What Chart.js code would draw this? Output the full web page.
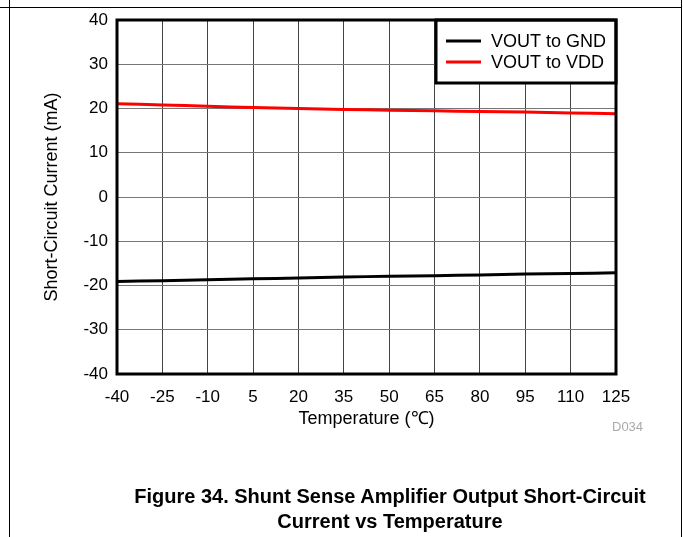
<!DOCTYPE html>
<html lang="en">
  <head>
    <meta charset="UTF-8" />
    <title>Short-Circuit Current vs Temperature</title>
    <style>
      body { margin: 0; width: 683px; height: 537px; position: relative; background: #fff; font-family: "Liberation Sans", Arial, sans-serif; overflow: hidden; }
      #wrap { position: absolute; left: 0; top: 0; width: 683px; height: 537px; }
      .hline { position: absolute; left: 0; top: 7px; width: 682px; height: 1px; background: #000; }
      .vline { position: absolute; top: 0; width: 1px; height: 537px; background: #000; }
      #code { position: absolute; left: 612px; top: 419px; font-size: 13px; color: #aaa; }
      #caption { position: absolute; left: 0; width: 683px; top: 484px; text-align: center; padding-left: 97px; box-sizing: border-box; font-weight: bold; font-size: 20px; line-height: 25px; color: #000; }
    </style>
  </head>
  <body>
    <div id="wrap"><canvas id="my-chart" width="683" height="537"></canvas></div>
    <div class="hline"></div>
    <div class="vline" style="left: 9px"></div>
    <div class="vline" style="left: 681px"></div>
    <div id="code">D034</div>
    <div id="caption">Figure 34. Shunt Sense Amplifier Output Short-Circuit<br />Current vs Temperature</div>

    <script src="https://cdn.jsdelivr.net/npm/chart.js"></script>
    <script>
      const temps = [-40, -25, -10, 5, 20, 35, 50, 65, 80, 95, 110, 125];
      const vddCurrent = [21.1, 20.8, 20.5, 20.2, 20.0, 19.8, 19.6, 19.5, 19.3, 19.2, 19.0, 18.8];
      const gndCurrent = [-19.1, -18.9, -18.7, -18.5, -18.3, -18.1, -17.9, -17.8, -17.6, -17.4, -17.3, -17.1];
      const seriesNames = ["VOUT to GND", "VOUT to VDD"];
      const seriesColors = ["#000000", "#ff0000"];

      const ctx = document.getElementById("my-chart").getContext("2d");

      // frame round the plot plus the boxed legend in the top right corner
      const boxPlugin = {
        id: "boxPlugin",
        afterDatasetsDraw(chart) {
          const { ctx, chartArea } = chart;
          ctx.save();
          const lw = 180, lh = 63;
          const lx = chartArea.right - lw, ly = chartArea.top;
          ctx.fillStyle = "#fff";
          ctx.fillRect(lx, ly, lw, lh);
          ctx.strokeStyle = "#000";
          ctx.lineWidth = 3;
          ctx.strokeRect(lx, ly, lw, lh);
          ctx.font = "18px 'Liberation Sans', Arial, sans-serif";
          ctx.textBaseline = "middle";
          chart.data.datasets.forEach((ds, i) => {
            const y = ly + 21 + i * 21;
            ctx.strokeStyle = ds.borderColor;
            ctx.lineWidth = 3;
            ctx.beginPath();
            ctx.moveTo(lx + 10, y);
            ctx.lineTo(lx + 45, y);
            ctx.stroke();
            ctx.fillStyle = "#000";
            ctx.fillText(ds.label, lx + 55, y + 1);
          });
          ctx.strokeStyle = "#000";
          ctx.lineWidth = 3;
          ctx.strokeRect(chartArea.left, chartArea.top, chartArea.right - chartArea.left, chartArea.bottom - chartArea.top);
          ctx.restore();
        },
      };

      const tickFont = { family: "'Liberation Sans', Arial, sans-serif", size: 17 };
      const titleFont = { family: "'Liberation Sans', Arial, sans-serif", size: 18 };

      const chart = new Chart(ctx, {
        type: "line",
        data: {
          datasets: [
            {
              label: seriesNames[0],
              data: temps.map((t, i) => ({ x: t, y: gndCurrent[i] })),
              borderColor: seriesColors[0],
              borderWidth: 3,
              pointRadius: 0,
              tension: 0.3,
            },
            {
              label: seriesNames[1],
              data: temps.map((t, i) => ({ x: t, y: vddCurrent[i] })),
              borderColor: seriesColors[1],
              borderWidth: 3,
              pointRadius: 0,
              tension: 0.3,
            },
          ],
        },
        options: {
          responsive: false,
          animation: false,
          layout: { padding: { left: 41, right: 67, top: 20, bottom: 107 } },
          plugins: { legend: { display: false }, tooltip: { enabled: false } },
          scales: {
            x: {
              type: "linear",
              min: -40,
              max: 125,
              afterBuildTicks: (scale) => {
                scale.ticks = temps.map((v) => ({ value: v }));
              },
              afterFit: (scale) => {
                scale.height = 56;
              },
              grid: { color: "#444", drawTicks: false },
              border: { display: false },
              ticks: { color: "#000", font: tickFont, padding: 13, maxRotation: 0, autoSkip: false },
              title: { display: true, text: "Temperature (\u2103)", color: "#000", font: titleFont, padding: 0 },
            },
            y: {
              min: -40,
              max: 40,
              afterFit: (scale) => {
                scale.width = 76;
              },
              grid: { color: "#777", drawTicks: false },
              border: { display: false },
              ticks: { stepSize: 10, color: "#000", font: tickFont, padding: 9 },
              title: { display: true, text: "Short-Circuit Current (mA)", color: "#000", font: titleFont, padding: 0 },
            },
          },
        },
        plugins: [boxPlugin],
      });
    </script>
  </body>
</html>
